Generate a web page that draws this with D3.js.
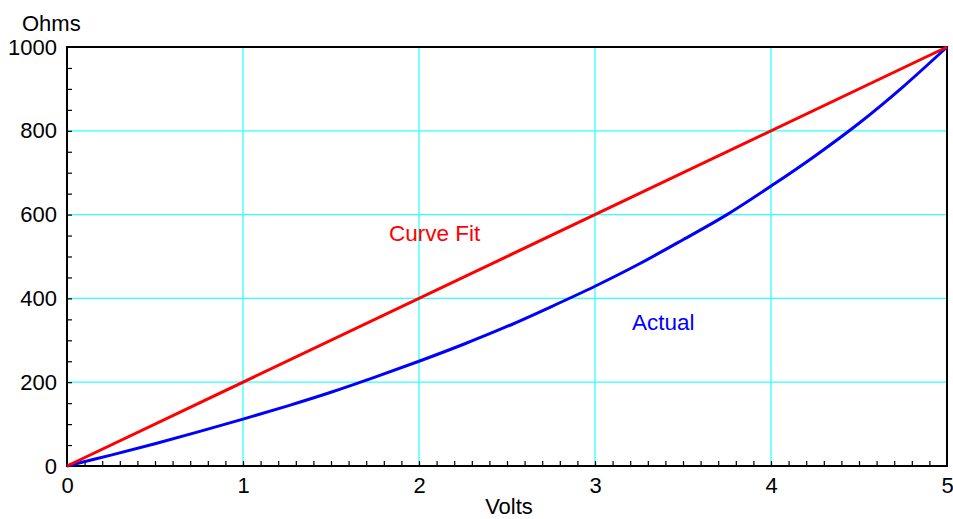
<!DOCTYPE html>
<html>
<head>
<meta charset="utf-8">
<script src="https://cdn.jsdelivr.net/npm/d3@7"></script>
<style>
  html, body { margin: 0; padding: 0; background: #fff; }
  svg text { font-family: "Liberation Sans", Arial, Helvetica, sans-serif; }
</style>
</head>
<body>
<svg id="chart" width="953" height="519"></svg>
<script>
// measured curve (Volts -> Ohms)
const volts = [0, 0.25, 0.5, 0.75, 1, 1.25, 1.5, 1.75, 2, 2.25, 2.5, 2.75, 3, 3.25, 3.5, 3.75, 4, 4.25, 4.5, 4.75, 5];
const actualOhms = [0, 26, 53, 82, 112, 143, 176, 212, 250, 290, 333, 380, 429, 482, 540, 600, 668, 740, 818, 905, 1000];

// straight-line fit
const fitVolts = [0, 5];
const fitOhms = [0, 1000];

const xTicks = [0, 1, 2, 3, 4, 5];
const yTicks = [0, 200, 400, 600, 800, 1000];

const svg = d3.select("#chart");

const x = d3.scaleLinear().domain([0, 5]).range([67, 947]);
const y = d3.scaleLinear().domain([0, 1000]).range([466, 47]);

// grid
const grid = svg.append("g").attr("stroke", "#33ffff").attr("stroke-width", 1.3);
grid.selectAll("line.v")
  .data(xTicks.slice(1, -1))
  .enter().append("line")
  .attr("x1", d => x(d)).attr("x2", d => x(d))
  .attr("y1", y(0)).attr("y2", y(1000));
grid.selectAll("line.h")
  .data(yTicks.slice(1, -1))
  .enter().append("line")
  .attr("x1", x(0)).attr("x2", x(5))
  .attr("y1", d => y(d)).attr("y2", d => y(d));

// minor ticks pointing inwards
svg.append("g")
  .attr("transform", "translate(0," + y(0) + ")")
  .call(d3.axisBottom(x).tickValues(d3.range(1, 50).map(i => i / 10)).tickSize(-5).tickFormat(""))
  .call(g => g.select(".domain").remove())
  .selectAll("line").attr("stroke", "#000").attr("stroke-width", 1.2);

svg.append("g")
  .attr("transform", "translate(" + x(0) + ",0)")
  .call(d3.axisLeft(y).tickValues(d3.range(1, 20).map(i => i * 50)).tickSize(-5).tickFormat(""))
  .call(g => g.select(".domain").remove())
  .selectAll("line").attr("stroke", "#000").attr("stroke-width", 1.2);

// tick labels
svg.append("g")
  .attr("transform", "translate(0," + y(0) + ")")
  .call(d3.axisBottom(x).tickValues(xTicks).tickSize(0).tickPadding(11).tickFormat(d3.format("d")))
  .call(g => g.select(".domain").remove())
  .selectAll("text")
  .attr("font-size", 22).attr("fill", "#000")
  .style("font-family", "'Liberation Sans', Arial, sans-serif");

svg.append("g")
  .attr("transform", "translate(" + x(0) + ",0)")
  .call(d3.axisLeft(y).tickValues(yTicks).tickSize(0).tickPadding(10).tickFormat(d3.format("d")))
  .call(g => g.select(".domain").remove())
  .selectAll("text")
  .attr("font-size", 22).attr("fill", "#000")
  .style("font-family", "'Liberation Sans', Arial, sans-serif");

// frame
svg.append("rect")
  .attr("x", x(0)).attr("y", y(1000))
  .attr("width", x(5) - x(0)).attr("height", y(0) - y(1000))
  .attr("fill", "none").attr("stroke", "#000").attr("stroke-width", 2);

// curves
svg.append("path")
  .datum(d3.zip(volts, actualOhms))
  .attr("d", d3.line().x(d => x(d[0])).y(d => y(d[1])).curve(d3.curveCatmullRom))
  .attr("fill", "none").attr("stroke", "#0000ff").attr("stroke-width", 3);

svg.append("path")
  .datum(d3.zip(fitVolts, fitOhms))
  .attr("d", d3.line().x(d => x(d[0])).y(d => y(d[1])))
  .attr("fill", "none").attr("stroke", "#ff0000").attr("stroke-width", 3);

// annotations
svg.append("text").attr("x", 389).attr("y", 241).attr("font-size", 22.5)
  .attr("fill", "#ff0000").text("Curve Fit");
svg.append("text").attr("x", 632).attr("y", 330).attr("font-size", 22.5)
  .attr("fill", "#0000ff").text("Actual");

// axis titles
svg.append("text").attr("x", 22).attr("y", 31).attr("font-size", 22)
  .attr("fill", "#000").text("Ohms");
svg.append("text").attr("x", 509).attr("y", 514).attr("font-size", 22)
  .attr("text-anchor", "middle").attr("fill", "#000").text("Volts");
</script>
</body>
</html>
